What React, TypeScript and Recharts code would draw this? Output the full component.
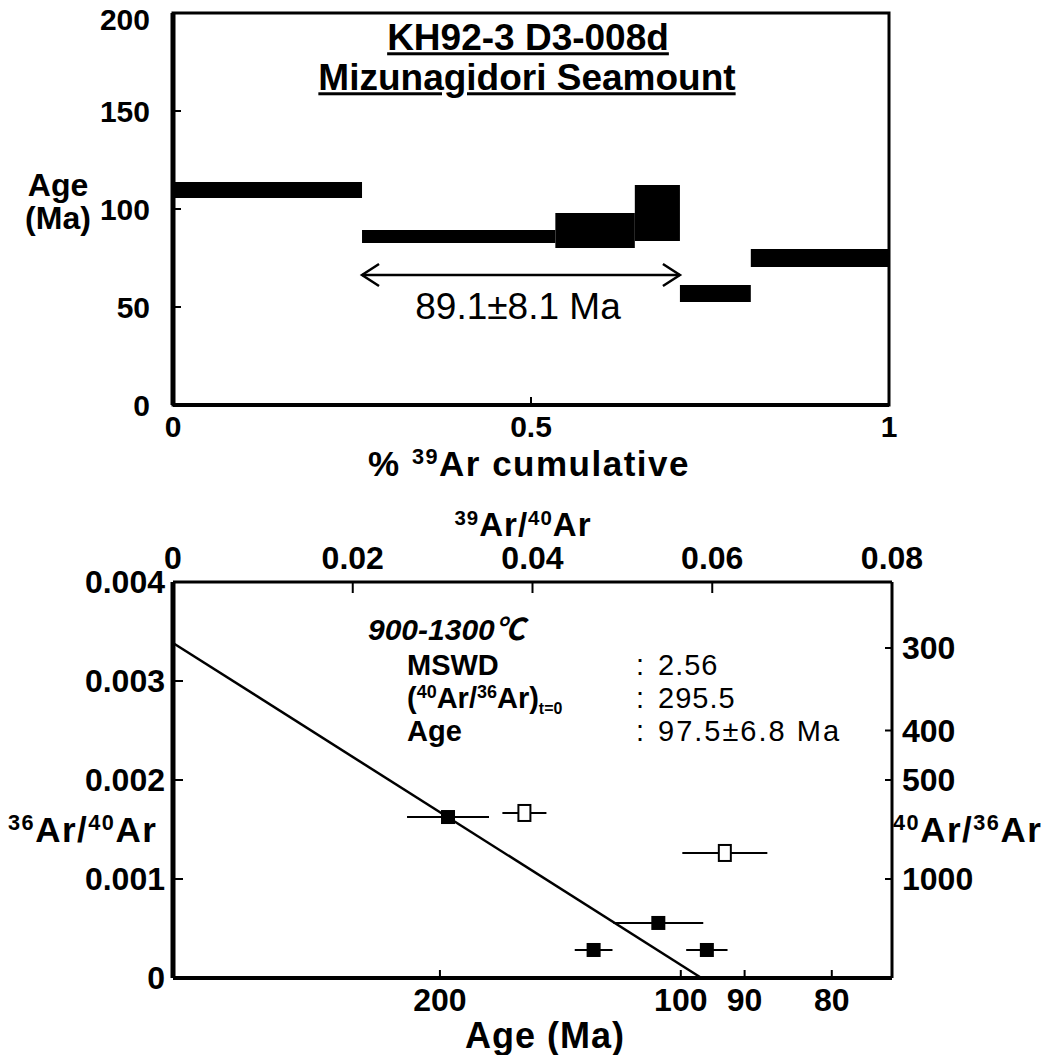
import type { ReactNode } from "react";
import {
  ComposedChart,
  ErrorBar,
  ReferenceArea,
  ReferenceLine,
  Scatter,
  XAxis,
  YAxis,
} from "recharts";

const FONT = "'Liberation Sans', Arial, 'Noto Sans CJK JP', sans-serif";

// age spectrum: cumulative 39Ar fraction of each step and its age band (Ma)
const stepFrom = [0, 0.264, 0.534, 0.645, 0.708, 0.807];
const stepTo = [0.264, 0.534, 0.645, 0.708, 0.807, 1];
const stepAgeLow = [105.6, 82.7, 80.1, 83.7, 52.6, 70.4];
const stepAgeHigh = [113.8, 89.3, 98.0, 112.2, 61.2, 79.6];
const plateauFrom = 0.264;
const plateauTo = 0.708;
const plateauArrowAge = 66.3;
const spectrumAgeTicks = [0, 50, 100, 150, 200];
const spectrumFracTicks = [0, 0.5, 1];

// isochron: 39Ar/40Ar vs 36Ar/40Ar
const filled39 = [0.0306, 0.054, 0.0468, 0.0594];
const filled36 = [0.001626, 0.000556, 0.000283, 0.000283];
const filledErr = [0.00456, 0.005, 0.0021, 0.0023];
const open39 = [0.0391, 0.0614];
const open36 = [0.001667, 0.001263];
const openErr = [0.00245, 0.00473];
const isoLine39 = [0, 0.0588];
const isoLine36 = [0.003384, 0];
const ratio39Ticks = [0, 0.02, 0.04, 0.06, 0.08];
const ratio36Ticks = [0, 0.001, 0.002, 0.003, 0.004];
const ageTickLabels = [200, 100, 90, 80];
const ageTickPos39 = [0.0297, 0.0565, 0.0636, 0.0733];
const atmTickLabels = [300, 400, 500, 1000];

const stepCenters = stepFrom.map((f, i) => ({
  f: (f + stepTo[i]) / 2,
  a: (stepAgeLow[i] + stepAgeHigh[i]) / 2,
}));
const filledPoints = filled39.map((x, i) => ({ x, y: filled36[i], err: filledErr[i] }));
const openPoints = open39.map((x, i) => ({ x, y: open36[i], err: openErr[i] }));

type Side = "left" | "right" | "top" | "bottom";

function tickMaker(side: Side, len: number, gap: number, fmt: (v: number) => string, size: number) {
  return (p: any) => {
    const x = p.x;
    const y = p.y;
    const v = p.payload.value;
    let line = [x, y, x, y];
    let tx = x;
    let ty = y;
    let anchor: "start" | "middle" | "end" = "middle";
    if (side === "left") {
      line = [x, y, x + len, y];
      tx = x - gap;
      anchor = "end";
    } else if (side === "right") {
      line = [x, y, x - len, y];
      tx = x + gap;
      anchor = "start";
    } else if (side === "top") {
      line = [x, y, x, y + len];
      ty = y - gap;
    } else {
      line = [x, y, x, y - len];
      ty = y + gap;
    }
    // keep the label inside the picture at the very top
    ty = Math.max(ty, size / 2 + 4);
    return (
      <g>
        <line x1={line[0]} y1={line[1]} x2={line[2]} y2={line[3]} stroke="#000" strokeWidth={2} />
        <text
          x={tx}
          y={ty}
          textAnchor={anchor}
          dominantBaseline="central"
          fontFamily={FONT}
          fontWeight={700}
          fontSize={size}
          fill="#000"
        >
          {fmt(v)}
        </text>
      </g>
    );
  };
}

const arrowShape = (p: any) => {
  const { x1, y1, x2, y2 } = p;
  const h = 17;
  const w = 11;
  return (
    <g stroke="#000" strokeWidth={2.5} fill="none">
      <line x1={x1} y1={y1} x2={x2} y2={y2} />
      <polyline points={`${x1 + h},${y1 - w} ${x1},${y1} ${x1 + h},${y1 + w}`} />
      <polyline points={`${x2 - h},${y2 - w} ${x2},${y2} ${x2 - h},${y2 + w}`} />
    </g>
  );
};

const noMark = () => <g />;
const filledSquare = (p: any) => <rect x={p.cx - 7} y={p.cy - 7} width={14} height={14} fill="#000" />;
const openSquare = (p: any) => (
  <rect x={p.cx - 6} y={p.cy - 8} width={12} height={16} fill="#fff" stroke="#000" strokeWidth={2} />
);

function Txt({
  x,
  y,
  align = "center",
  size = 32,
  weight = 700,
  italic = false,
  spacing = 0,
  children,
}: {
  x: number;
  y: number;
  align?: "left" | "center" | "right";
  size?: number;
  weight?: number;
  italic?: boolean;
  spacing?: number;
  children: ReactNode;
}) {
  const tx = align === "center" ? "-50%" : align === "right" ? "-100%" : "0";
  return (
    <div
      style={{
        position: "absolute",
        left: x,
        top: y,
        transform: `translate(${tx}, -50%)`,
        fontSize: size,
        fontWeight: weight,
        fontStyle: italic ? "italic" : "normal",
        letterSpacing: spacing,
        lineHeight: 0.85,
        whiteSpace: "nowrap",
        fontFamily: FONT,
        color: "#000",
      }}
    >
      {children}
    </div>
  );
}

const Sup = ({ children }: { children: ReactNode }) => (
  <span style={{ fontSize: "0.62em", position: "relative", top: "-0.55em" }}>{children}</span>
);

function SpectrumChart() {
  return (
    <ComposedChart width={1058} height={470} margin={{ top: 13, right: 169, bottom: 20, left: 0 }}>
      <XAxis
        xAxisId="f"
        type="number"
        dataKey="f"
        domain={[0, 1]}
        ticks={spectrumFracTicks}
        interval={0}
        tickSize={0}
        tickMargin={0}
        tickLine={false}
        tick={tickMaker("bottom", 8, 21, (v) => String(v), 30)}
        axisLine={{ stroke: "#000", strokeWidth: 4 }}
        height={45}
      />
      <YAxis
        yAxisId="a"
        type="number"
        dataKey="a"
        domain={[0, 200]}
        ticks={spectrumAgeTicks}
        interval={0}
        tickSize={0}
        tickMargin={0}
        tickLine={false}
        tick={tickMaker("left", 8, 23, (v) => String(v), 30)}
        axisLine={{ stroke: "#000", strokeWidth: 5 }}
        width={173}
      />
      <ReferenceArea
        xAxisId="f"
        yAxisId="a"
        x1={0}
        x2={1}
        y1={0}
        y2={200}
        fill="none"
        stroke="#000"
        strokeWidth={3}
        ifOverflow="visible"
      />
      {stepFrom.map((from, i) => (
        <ReferenceArea
          key={i}
          xAxisId="f"
          yAxisId="a"
          x1={from}
          x2={stepTo[i]}
          y1={stepAgeLow[i]}
          y2={stepAgeHigh[i]}
          fill="#000"
          fillOpacity={1}
          stroke="none"
          ifOverflow="visible"
        />
      ))}
      <ReferenceLine
        xAxisId="f"
        yAxisId="a"
        segment={[
          { x: plateauFrom, y: plateauArrowAge },
          { x: plateauTo, y: plateauArrowAge },
        ]}
        shape={arrowShape}
        ifOverflow="visible"
      />
      <Scatter xAxisId="f" yAxisId="a" data={stepCenters} shape={noMark} isAnimationActive={false} />
    </ComposedChart>
  );
}

function IsochronChart() {
  return (
    <ComposedChart width={1058} height={585} margin={{ top: 72, right: 0, bottom: 32, left: 0 }}>
      <XAxis
        xAxisId="top"
        orientation="top"
        type="number"
        dataKey="x"
        domain={[0, 0.08]}
        ticks={ratio39Ticks}
        interval={0}
        tickSize={0}
        tickMargin={0}
        tickLine={false}
        tick={tickMaker("top", 11, 24, (v) => String(v), 32)}
        axisLine={{ stroke: "#000", strokeWidth: 3 }}
        height={40}
      />
      <XAxis
        xAxisId="age"
        orientation="bottom"
        type="number"
        dataKey="x"
        domain={[0, 0.08]}
        ticks={ageTickPos39}
        interval={0}
        tickSize={0}
        tickMargin={0}
        tickLine={false}
        tick={tickMaker("bottom", 8, 22, (v) => String(ageTickLabels[ageTickPos39.indexOf(v)]), 32)}
        axisLine={{ stroke: "#000", strokeWidth: 4 }}
        height={45}
      />
      <YAxis
        yAxisId="left"
        type="number"
        dataKey="y"
        domain={[0, 0.004]}
        ticks={ratio36Ticks}
        interval={0}
        tickSize={0}
        tickMargin={0}
        tickLine={false}
        tick={tickMaker("left", 10, 8, (v) => (v === 0 ? "0" : v.toFixed(3)), 32)}
        axisLine={{ stroke: "#000", strokeWidth: 5 }}
        width={173}
      />
      <YAxis
        yAxisId="right"
        orientation="right"
        type="number"
        dataKey="y"
        domain={[0, 0.004]}
        ticks={atmTickLabels.map((r) => 1 / r)}
        interval={0}
        tickSize={0}
        tickMargin={0}
        tickLine={false}
        tick={tickMaker("right", 7, 10, (v) => String(Math.round(1 / v)), 32)}
        axisLine={{ stroke: "#000", strokeWidth: 3 }}
        width={166}
      />
      <ReferenceLine
        xAxisId="top"
        yAxisId="left"
        segment={[
          { x: isoLine39[0], y: isoLine36[0] },
          { x: isoLine39[1], y: isoLine36[1] },
        ]}
        stroke="#000"
        strokeWidth={2.5}
        ifOverflow="visible"
      />
      <Scatter xAxisId="age" yAxisId="right" data={filledPoints} shape={noMark} isAnimationActive={false} />
      <Scatter
        xAxisId="top"
        yAxisId="left"
        data={filledPoints}
        shape={filledSquare}
        isAnimationActive={false}
      >
        <ErrorBar dataKey="err" direction="x" width={0} stroke="#000" strokeWidth={2} />
      </Scatter>
      <Scatter
        xAxisId="top"
        yAxisId="left"
        data={openPoints}
        shape={openSquare}
        isAnimationActive={false}
      >
        <ErrorBar dataKey="err" direction="x" width={0} stroke="#000" strokeWidth={2} />
      </Scatter>
    </ComposedChart>
  );
}

export default function App() {
  return (
    <div
      style={{
        position: "absolute",
        left: 0,
        top: 0,
        width: 1058,
        height: 1055,
        background: "#fff",
        fontFamily: FONT,
      }}
    >
      <div style={{ position: "absolute", left: 0, top: 0 }}>
        <SpectrumChart />
      </div>
      <div style={{ position: "absolute", left: 0, top: 470 }}>
        <IsochronChart />
      </div>

      <Txt x={528} y={38} size={37}>
        <span style={{ textDecoration: "underline" }}>KH92-3 D3-008d</span>
      </Txt>
      <Txt x={527} y={78} size={37}>
        <span style={{ textDecoration: "underline" }}>Mizunagidori Seamount</span>
      </Txt>
      <Txt x={518} y={307} size={37} weight={400}>
        89.1±8.1 Ma
      </Txt>
      <Txt x={58} y={186} size={32}>
        Age
      </Txt>
      <Txt x={58} y={219} size={32}>
        (Ma)
      </Txt>
      <Txt x={529} y={464} size={35} spacing={1.5}>
        % <Sup>39</Sup>Ar cumulative
      </Txt>

      <Txt x={523} y={525} size={33} spacing={1}>
        <Sup>39</Sup>Ar/<Sup>40</Sup>Ar
      </Txt>
      <Txt x={368} y={630} align="left" size={30} weight={700} italic>
        900-1300℃
      </Txt>
      <Txt x={407} y={665} align="left" size={29}>
        MSWD
      </Txt>
      <Txt x={407} y={698} align="left" size={29}>
        (<Sup>40</Sup>Ar/<Sup>36</Sup>Ar)
        <span style={{ fontSize: "0.55em", position: "relative", top: "0.4em" }}>t=0</span>
      </Txt>
      <Txt x={407} y={731} align="left" size={29}>
        Age
      </Txt>
      <Txt x={636} y={665} align="left" size={29} weight={400}>
        :
      </Txt>
      <Txt x={636} y={698} align="left" size={29} weight={400}>
        :
      </Txt>
      <Txt x={636} y={731} align="left" size={29} weight={400}>
        :
      </Txt>
      <Txt x={658} y={665} align="left" size={29} weight={400} spacing={1}>
        2.56
      </Txt>
      <Txt x={658} y={698} align="left" size={29} weight={400} spacing={1}>
        295.5
      </Txt>
      <Txt x={658} y={731} align="left" size={29} weight={400} spacing={2}>
        97.5±6.8 Ma
      </Txt>
      <Txt x={8} y={830} align="left" size={35} spacing={1.5}>
        <Sup>36</Sup>Ar/<Sup>40</Sup>Ar
      </Txt>
      <Txt x={893} y={830} align="left" size={35} spacing={1.5}>
        <Sup>40</Sup>Ar/<Sup>36</Sup>Ar
      </Txt>
      <Txt x={545} y={1036} size={36} spacing={1}>
        Age (Ma)
      </Txt>
    </div>
  );
}
